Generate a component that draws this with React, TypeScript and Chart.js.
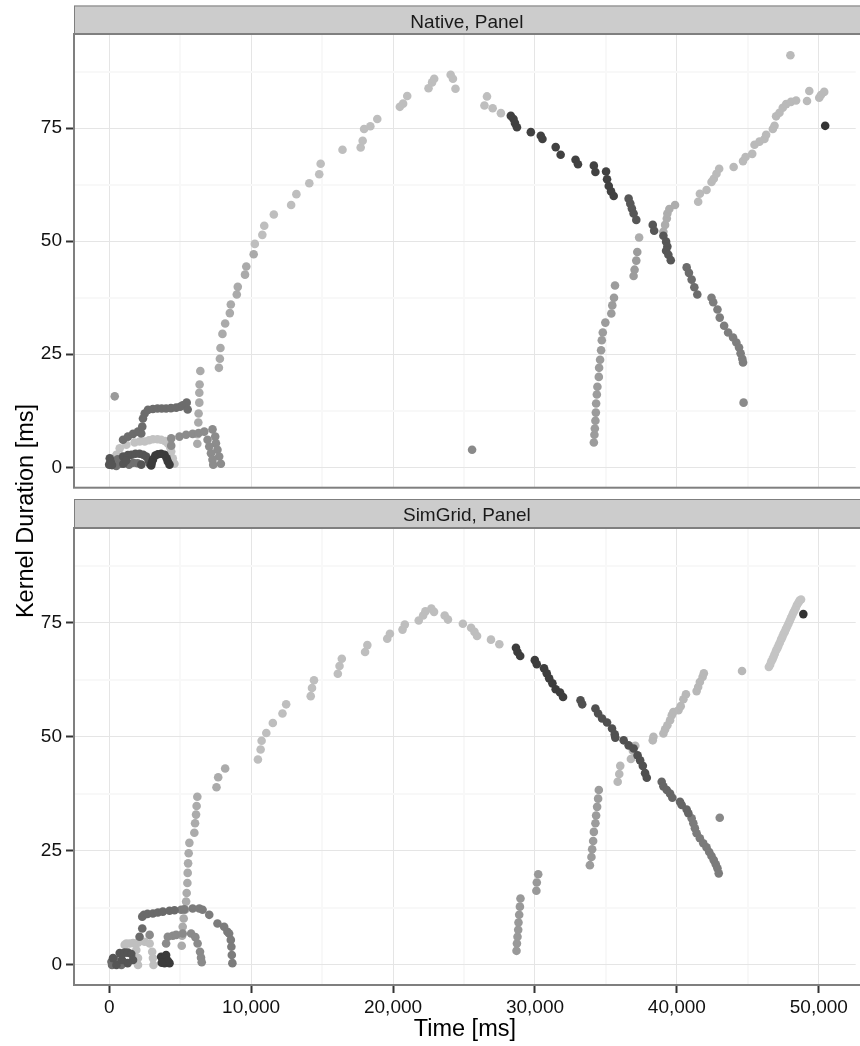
import React, { useEffect, useRef } from 'react';
import { Chart, registerables } from 'chart.js';

Chart.register(...registerables);

type P = [number, number];

// ---------- axis settings ----------
const X_MIN = -2480;
const X_MAX = 52600;
const Y_MIN = -4.5;
const Y_MAX = 95.8;
const xMajor = [0, 10000, 20000, 30000, 40000, 50000];
const xMinor = [5000, 15000, 25000, 35000, 45000];
const yMajor = [0, 25, 50, 75];
const yMinor = [12.5, 37.5, 62.5, 87.5];
const panelTitles = ['Native, Panel', 'SimGrid, Panel'];
const xTitle = 'Time [ms]';
const yTitle = 'Kernel Duration [ms]';

// ---------- Native panel ----------
const nativeDot: P[] = [[390, 15.7]];
const nativeFarLeft: P[] = [[300, 1.2], [600, 1.8], [800, 0.8], [1100, 1.2], [1400, 0.6], [1700, 1.0], [2000, 0.9], [500, 0.3]];
const nativeDarkArch: P[] = [[0, 0.6], [40, 2.0], [100, 1.3], [200, 0.5], [975, 2.4], [1320, 2.7], [1560, 2.8], [1850, 3.0], [2140, 3.0], [2400, 2.8], [2610, 2.4], [2780, 1.5], [2850, 0.8], [2260, 0.6], [1000, 0.8], [1200, 1.5]];
const nativeDarkest: P[] = [[3080, 1.7], [3250, 2.6], [3430, 2.9], [3660, 3.0], [3900, 2.8], [4050, 2.0], [4130, 1.3], [4250, 0.6], [2960, 0.4], [3000, 1.0]];
const nativeHighArch: P[] = [[975, 6.1], [1320, 6.8], [1680, 7.4], [2030, 7.9], [2260, 7.5], [2330, 9.0], [2380, 10.8], [2500, 11.9], [2730, 12.7], [3080, 12.9], [3400, 13.0], [3700, 13.0], [4010, 13.0], [4350, 13.1], [4720, 13.2], [5000, 13.4], [5180, 13.7], [5460, 14.3], [5530, 12.8]];
const nativeLightArch: P[] = [[390, 0.9], [510, 2.8], [740, 4.2], [1210, 5.0], [1790, 5.5], [2150, 5.7], [2500, 5.7], [2800, 6.0], [3080, 6.2], [3400, 6.2], [3660, 6.1], [3950, 5.8], [4130, 5.3], [4300, 4.4], [4370, 3.5], [4480, 2.0], [4600, 0.8]];
const nativeMidArch: P[] = [[4370, 4.8], [4370, 6.4], [4950, 6.8], [5420, 7.2], [5880, 7.4], [6300, 7.6], [6700, 7.9], [7280, 8.4], [7470, 6.8], [7520, 5.3], [7630, 3.9], [7750, 2.4], [7870, 0.8], [6930, 6.1], [7050, 4.6], [7170, 3.1], [7280, 1.7], [7330, 0.6]];
const nativeRiseLow: P[] = [[6210, 5.2], [6230, 7.3], [6280, 9.9], [6300, 11.9], [6350, 14.3], [6350, 16.5], [6370, 18.3], [6420, 21.3], [7730, 22.0], [7800, 24.0], [7840, 26.4], [7980, 29.5], [8170, 31.8], [8500, 34.1], [8570, 36.0], [8990, 38.2], [9060, 39.9], [9570, 42.6], [9660, 44.4], [10180, 47.1]];
const nativeArc: P[] = [[10260, 49.4], [10790, 51.4], [10925, 53.4], [11600, 55.9], [12820, 58.0], [13190, 60.4], [14100, 62.8], [14800, 64.8], [14900, 67.1], [16440, 70.2], [17720, 70.7], [17860, 72.2], [17960, 74.8], [18400, 75.4], [18890, 77.0], [20480, 79.7], [20710, 80.4], [21000, 82.1], [22500, 83.8], [22750, 85.1], [22900, 85.9], [24060, 86.8], [24220, 85.9], [24400, 83.7], [26440, 80.0], [26620, 82.0], [27020, 79.4], [27600, 78.3]];
const nativeFallA: P[] = [[28300, 77.7], [28490, 77.0], [28590, 76.1], [28730, 75.2], [29710, 74.1], [30410, 73.3], [30530, 72.6], [31460, 70.8], [31810, 69.1], [32860, 68.0], [33030, 67.0], [34150, 66.7], [34260, 65.3], [35010, 65.4], [35080, 63.7], [35200, 62.2], [35360, 61.0], [35550, 60.0]];
const nativeFallB: P[] = [[36600, 59.4], [36720, 58.3], [36830, 57.2], [36950, 56.1], [37140, 54.7], [38300, 53.6], [38400, 52.3], [39050, 51.2], [39240, 49.9], [39330, 48.8], [39240, 47.9], [39400, 47.0], [39570, 45.8]];
const nativeFallC: P[] = [[40690, 44.2], [40850, 43.0], [41040, 41.5], [41230, 39.8], [41440, 38.2]];
const nativeFallD: P[] = [[42440, 37.5], [42560, 36.5], [42860, 34.9], [43020, 33.1], [43330, 31.3], [43610, 29.8], [43960, 28.7], [44190, 27.6], [44380, 26.5], [44490, 25.2], [44610, 24.0], [44660, 23.2]];
const nativeStray: P[] = [[44700, 14.3], [25570, 3.9]];
const nativeRiseR1: P[] = [[34150, 5.5], [34190, 7.2], [34220, 8.6], [34260, 10.3], [34290, 12.1], [34310, 14.1], [34360, 16.1], [34400, 17.8], [34500, 20.0], [34520, 22.0], [34590, 23.8], [34660, 25.9], [34710, 28.1], [34780, 29.8], [34960, 32.0], [35380, 34.0], [35450, 35.8], [35570, 37.5], [35640, 40.2], [36950, 42.3], [37020, 43.7], [37140, 45.7], [37210, 47.6]];
const nativeRiseR2: P[] = [[37340, 50.8], [39050, 52.1], [39170, 53.6], [39290, 55.0], [39330, 56.1], [39470, 57.1], [39870, 58.0]];
const nativeRiseR3: P[] = [[41500, 58.7], [41620, 60.5], [42090, 61.3], [42440, 63.1], [42600, 63.8], [42790, 64.9], [42980, 66.0], [44000, 66.4], [44660, 67.7], [44840, 68.6], [45310, 69.3], [45470, 71.3], [45820, 72.0], [46170, 72.6], [46290, 73.5], [46760, 74.8], [46880, 75.5], [46990, 77.6], [47230, 78.4], [47460, 79.5], [47700, 80.3], [48040, 80.8], [48400, 81.1], [49170, 81.0], [49330, 83.2], [50030, 81.7], [50150, 82.3], [50380, 83.0], [48000, 91.1]];
const nativeLast: P[] = [[50450, 75.5]];

// ---------- SimGrid panel ----------
const simFarLeft: P[] = [[160, 0.6], [200, -0.1], [400, 0.9], [860, -0.1], [1000, 0.5]];
const simDark: P[] = [[270, 1.4], [740, 2.5], [1090, 2.6], [1320, 2.6], [1560, 2.3], [1680, 1.0], [1300, 0.3], [510, -0.1], [900, 1.0]];
const simDarkest: P[] = [[3660, 1.7], [3780, 1.2], [4010, 2.1], [3900, 0.3], [4250, 0.3], [4130, 0.8], [3700, 0.4]];
const simLightArch: P[] = [[1090, 4.3], [1440, 4.6], [2030, 4.8], [2500, 5.0], [2850, 4.6], [3030, 2.8], [3080, 1.4], [3120, -0.1], [1910, 3.2], [2030, 1.4], [2030, -0.1], [1210, 4.6], [1680, 4.7]];
const simMidArch: P[] = [[2850, 6.5], [4010, 4.6], [4130, 6.1], [4480, 6.3], [4720, 6.5], [5180, 6.8], [5770, 6.8], [6070, 6.0], [6230, 4.6], [6400, 2.8], [6470, 1.5], [6520, 0.5]];
const simHighArch: P[] = [[2140, 6.1], [2330, 7.9], [2330, 10.5], [2450, 10.9], [2700, 11.1], [3080, 11.2], [3430, 11.4], [3780, 11.6], [4250, 11.8], [4600, 11.9]];
const simHighArch2: P[] = [[5070, 12.0], [5290, 12.1], [5880, 12.3], [6350, 12.3], [6580, 12.0], [7050, 10.9], [7630, 9.0], [8100, 8.3], [8330, 7.2], [8450, 6.8], [8570, 5.4], [8610, 3.9], [8640, 2.1], [8680, 0.3]];
const simRiseLow: P[] = [[5110, 4.1], [5140, 6.3], [5180, 8.3], [5250, 10.1], [5350, 12.0], [5420, 13.8], [5460, 15.7], [5510, 17.9], [5530, 20.1], [5560, 22.2], [5600, 24.4], [5650, 26.7], [6000, 28.9], [6050, 31.0], [6120, 32.9], [6160, 34.8], [6210, 36.8], [7560, 38.9], [7680, 41.1], [8170, 43.0]];
const simArc: P[] = [[10480, 45.0], [10670, 47.2], [10740, 49.1], [11070, 50.8], [11530, 53.0], [12210, 55.1], [12470, 57.1], [14200, 58.9], [14290, 60.7], [14430, 62.4], [16110, 63.8], [16230, 65.5], [16390, 67.1], [18030, 68.6], [18190, 70.1], [19590, 71.5], [19780, 72.6], [20670, 73.5], [20830, 74.6], [21810, 75.5], [22120, 76.6], [22280, 77.5], [22700, 78.1], [22890, 77.4], [23640, 76.6], [23870, 75.7], [24920, 74.8], [25500, 73.9], [25740, 73.0], [25920, 72.1], [26900, 71.3], [27490, 70.3]];
const simFallA: P[] = [[28660, 69.5], [28770, 68.6], [28960, 67.7], [29990, 66.8], [30130, 65.9], [30640, 65.0], [30830, 63.9], [31000, 62.8], [31230, 61.7], [31460, 60.4], [31770, 59.7], [31980, 58.7]];
const simFallB: P[] = [[33210, 58.0], [33330, 57.1], [34260, 56.2], [34450, 55.1], [34730, 54.0], [35080, 53.1], [35430, 51.8], [35620, 50.5], [35660, 49.8], [36250, 49.2], [36600, 48.1], [36950, 47.4], [37230, 45.9], [37410, 44.8], [37600, 43.6], [37760, 42.0], [37880, 41.0]];
const simFallC: P[] = [[38930, 40.1], [39050, 39.1], [39290, 38.3], [39520, 37.5], [39680, 36.6], [40220, 35.7], [40340, 35.0], [40690, 34.0], [40810, 33.2]];
const simFallD: P[] = [[41040, 32.1], [41160, 31.0], [41270, 29.9], [41390, 28.8], [41620, 27.7], [41860, 26.6], [42090, 25.7], [42280, 24.7], [42440, 23.8], [42600, 22.9], [42740, 22.0], [42860, 21.1], [42950, 20.0]];
const simStray: P[] = [[43020, 32.2]];
const simCol1: P[] = [[28700, 3.0], [28730, 4.6], [28770, 6.1], [28820, 7.6], [28840, 9.2], [28890, 10.9], [28940, 12.7], [28980, 14.5]];
const simCol2: P[] = [[30100, 16.2], [30130, 18.0], [30230, 19.8]];
const simCol3: P[] = [[33870, 21.8], [33980, 23.6], [34030, 25.3], [34100, 27.1], [34150, 29.1], [34260, 31.0], [34310, 32.7], [34380, 34.6], [34450, 36.4], [34500, 38.3]];
const simRiseR: P[] = [[35830, 40.1], [35940, 41.8], [36010, 43.6], [36760, 45.1], [36900, 46.9], [37070, 48.0], [38300, 49.2], [38350, 50.0], [39050, 50.7], [39170, 51.6], [39330, 52.5], [39520, 53.6], [39640, 54.7], [39750, 55.4], [40110, 55.8], [40270, 56.7], [40460, 58.2], [40640, 59.3], [41390, 60.0], [41500, 60.9], [41620, 62.0], [41810, 63.1], [41900, 63.9], [44590, 64.4]];
const simLine: P[] = [[46480, 65.3], [46570, 65.8], [46650, 66.5], [46740, 67.0], [46820, 67.6], [46900, 68.2], [46990, 68.9], [47080, 69.4], [47160, 70.0], [47250, 70.6], [47340, 71.3], [47420, 71.8], [47510, 72.5], [47600, 73.0], [47680, 73.6], [47770, 74.2], [47860, 74.8], [47950, 75.4], [48030, 76.0], [48120, 76.6], [48200, 77.2], [48290, 77.7], [48380, 78.3], [48460, 78.9], [48560, 79.4], [48650, 79.9], [48750, 80.1]];
const simLast: P[] = [[48910, 76.9]];

// ---------- series tables (drawn in listed order, last on top) ----------
type Series = { points: P[]; shade: string };

const nativeSeries: Series[] = [
  { points: nativeArc, shade: '#bebebe' },
  { points: nativeRiseR3, shade: '#bababa' },
  { points: nativeRiseR2, shade: '#adadad' },
  { points: nativeRiseLow, shade: '#aaaaaa' },
  { points: nativeRiseR1, shade: '#9c9c9c' },
  { points: nativeDot, shade: '#9a9a9a' },
  { points: nativeLightArch, shade: '#c2c2c2' },
  { points: nativeMidArch, shade: '#8c8c8c' },
  { points: nativeStray, shade: '#8a8a8a' },
  { points: nativeFallD, shade: '#7e7e7e' },
  { points: nativeHighArch, shade: '#6c6c6c' },
  { points: nativeFallC, shade: '#6c6c6c' },
  { points: nativeFarLeft, shade: '#707070' },
  { points: nativeFallB, shade: '#575757' },
  { points: nativeDarkArch, shade: '#555555' },
  { points: nativeFallA, shade: '#414141' },
  { points: nativeDarkest, shade: '#3b3b3b' },
  { points: nativeLast, shade: '#333333' },
];

const simSeries: Series[] = [
  { points: simArc, shade: '#bebebe' },
  { points: simLine, shade: '#c4c4c4' },
  { points: simRiseR, shade: '#b8b8b8' },
  { points: simRiseLow, shade: '#ababab' },
  { points: simCol3, shade: '#9c9c9c' },
  { points: simCol2, shade: '#999999' },
  { points: simCol1, shade: '#999999' },
  { points: simLightArch, shade: '#bfbfbf' },
  { points: simMidArch, shade: '#8a8a8a' },
  { points: simStray, shade: '#888888' },
  { points: simHighArch2, shade: '#7c7c7c' },
  { points: simFallD, shade: '#7b7b7b' },
  { points: simHighArch, shade: '#6a6a6a' },
  { points: simFarLeft, shade: '#6e6e6e' },
  { points: simFallC, shade: '#666666' },
  { points: simDark, shade: '#555555' },
  { points: simFallB, shade: '#505050' },
  { points: simFallA, shade: '#3d3d3d' },
  { points: simDarkest, shade: '#3b3b3b' },
  { points: simLast, shade: '#333333' },
];

const FONT = "'Liberation Sans', Arial, Helvetica, sans-serif";
Chart.defaults.font.family = FONT;

type PanelCfg = {
  title: string;
  stripTop: number;
  padTop: number;
  padBottom: number;
  xHeight: number;
  showX: boolean;
};

function makeDeco(cfg: PanelCfg) {
  return {
    id: 'panelDeco',
    afterDraw(chart: any) {
      const { ctx, chartArea: a } = chart;
      ctx.save();
      // panel border
      ctx.strokeStyle = '#7f7f7f';
      ctx.lineWidth = 2;
      ctx.strokeRect(a.left, a.top, a.right - a.left + 10, a.bottom - a.top);
      // strip
      const h = a.top - cfg.stripTop;
      ctx.fillStyle = '#cccccc';
      ctx.fillRect(a.left, cfg.stripTop, a.right - a.left + 10, h);
      ctx.lineWidth = 1;
      ctx.strokeRect(a.left + 0.5, cfg.stripTop + 0.5, a.right - a.left + 10, h);
      ctx.lineWidth = 2;
      ctx.beginPath();
      ctx.moveTo(a.left, a.top);
      ctx.lineTo(a.right + 5, a.top);
      ctx.stroke();
      ctx.fillStyle = '#1a1a1a';
      ctx.font = `19px ${FONT}`;
      ctx.textAlign = 'center';
      ctx.textBaseline = 'alphabetic';
      ctx.fillText(cfg.title, (a.left + a.right) / 2 + 2, cfg.stripTop + 22.3);
      ctx.restore();
    },
  };
}

function buildChart(canvas: HTMLCanvasElement, series: Series[], cfg: PanelCfg) {
  const isMajorX = (v: number) => xMajor.includes(v);
  const isMajorY = (v: number) => yMajor.includes(v);
  return new Chart(canvas, {
    type: 'scatter',
    data: {
      datasets: series
        .slice()
        .reverse()
        .map((s) => ({
          data: s.points.map(([x, y]) => ({ x, y })),
          backgroundColor: s.shade,
          borderWidth: 0,
          pointRadius: 4.3,
          pointHoverRadius: 4.3,
          pointBorderWidth: 0,
        })),
    },
    options: {
      responsive: false,
      animation: false,
      events: [],
      layout: { padding: { top: cfg.padTop, bottom: cfg.padBottom, left: 0, right: 0 } },
      plugins: { legend: { display: false }, tooltip: { enabled: false }, title: { display: false } },
      scales: {
        x: {
          type: 'linear',
          min: X_MIN,
          max: X_MAX,
          afterBuildTicks: (s: any) => {
            s.ticks = [...xMajor, ...xMinor].sort((a, b) => a - b).map((v) => ({ value: v }));
          },
          afterFit: (s: any) => {
            s.height = cfg.xHeight;
            s.paddingLeft = 0;
            s.paddingRight = 0;
          },
          border: { display: false },
          grid: {
            color: (c: any) => (isMajorX(c.tick?.value) ? '#e5e5e5' : '#f8f8f8'),
            lineWidth: (c: any) => (isMajorX(c.tick?.value) ? 1 : 2),
            drawTicks: cfg.showX,
            tickLength: 8,
            tickWidth: 2,
            tickColor: (c: any) => (isMajorX(c.tick?.value) ? '#333333' : 'rgba(0,0,0,0)'),
          },
          ticks: {
            display: cfg.showX,
            autoSkip: false,
            maxRotation: 0,
            padding: 3,
            color: '#111111',
            font: { size: 19 },
            callback: (v: any) => (isMajorX(Number(v)) ? Number(v).toLocaleString('en-US') : ''),
          },
          title: {
            display: cfg.showX,
            text: xTitle,
            color: '#000000',
            font: { size: 23.5 },
            padding: { top: 0, bottom: 2 },
          },
        },
        y: {
          type: 'linear',
          min: Y_MIN,
          max: Y_MAX,
          afterBuildTicks: (s: any) => {
            s.ticks = [...yMajor, ...yMinor].sort((a, b) => a - b).map((v) => ({ value: v }));
          },
          afterFit: (s: any) => {
            s.width = 74;
            s.paddingTop = 0;
            s.paddingBottom = 0;
          },
          border: { display: false },
          grid: {
            color: (c: any) => (isMajorY(c.tick?.value) ? '#e5e5e5' : '#f8f8f8'),
            lineWidth: (c: any) => (isMajorY(c.tick?.value) ? 1 : 2),
            drawTicks: true,
            tickLength: 8,
            tickWidth: 2,
            tickColor: (c: any) => (isMajorY(c.tick?.value) ? '#333333' : 'rgba(0,0,0,0)'),
          },
          ticks: {
            autoSkip: false,
            padding: 4,
            color: '#111111',
            font: { size: 19 },
            callback: (v: any) => (isMajorY(Number(v)) ? String(v) : ''),
          },
        },
      },
    },
    plugins: [makeDeco(cfg)],
  } as any);
}

export default function App() {
  const topRef = useRef<HTMLCanvasElement>(null);
  const bottomRef = useRef<HTMLCanvasElement>(null);

  useEffect(() => {
    const c1 = buildChart(topRef.current!, nativeSeries, {
      title: panelTitles[0],
      stripTop: 5.5,
      padTop: 34,
      padBottom: 1,
      xHeight: 0,
      showX: false,
    });
    const c2 = buildChart(bottomRef.current!, simSeries, {
      title: panelTitles[1],
      stripTop: 7,
      padTop: 36,
      padBottom: 0,
      xHeight: 61,
      showX: true,
    });
    return () => {
      c1.destroy();
      c2.destroy();
    };
  }, []);

  return (
    <div style={{ position: 'absolute', left: 0, top: 0, width: 860, height: 1046, background: '#ffffff', overflow: 'hidden' }}>
      <canvas ref={topRef} width={860} height={492} style={{ position: 'absolute', left: 0, top: 0 }} />
      <canvas ref={bottomRef} width={860} height={554} style={{ position: 'absolute', left: 0, top: 492 }} />
      <div
        style={{
          position: 'absolute',
          left: 25 - 150,
          top: 511 - 15,
          width: 300,
          height: 30,
          lineHeight: '30px',
          textAlign: 'center',
          transform: 'rotate(-90deg)',
          fontFamily: FONT,
          fontSize: '23.5px',
          color: '#000000',
          whiteSpace: 'nowrap',
        }}
      >
        {yTitle}
      </div>
    </div>
  );
}
